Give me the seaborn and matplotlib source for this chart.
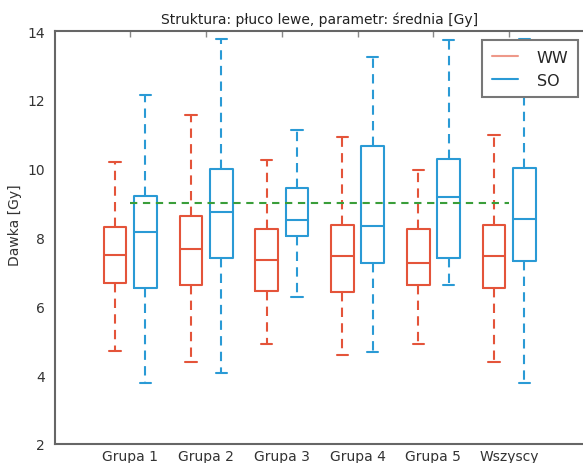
import seaborn as sns
import matplotlib.pyplot as plt
from matplotlib.lines import Line2D
import pandas as pd

# ---------------------------
# Data
# ---------------------------
groups = ["Grupa 1", "Grupa 2", "Grupa 3", "Grupa 4", "Grupa 5", "Wszyscy"]
series = ["WW", "SO"]

ww_low = [4.69, 4.37, 4.91, 4.60, 4.91, 4.38]
ww_q1 = [6.68, 6.62, 6.45, 6.41, 6.63, 6.52]
ww_med = [7.49, 7.67, 7.35, 7.46, 7.26, 7.46]
ww_q3 = [8.30, 8.62, 8.25, 8.36, 8.25, 8.37]
ww_high = [10.20, 11.56, 10.24, 10.91, 9.97, 10.98]

so_low = [3.76, 4.06, 6.26, 4.68, 6.62, 3.77]
so_q1 = [6.52, 7.40, 8.04, 7.26, 7.39, 7.32]
so_med = [8.15, 8.73, 8.52, 8.34, 9.19, 8.54]
so_q3 = [9.21, 9.99, 9.43, 10.66, 10.29, 10.01]
so_high = [12.14, 13.77, 11.13, 13.25, 13.74, 13.77]

limit = 9.0

# five points per box -> quartiles equal the values above
rows = []
for name, stats in [("WW", [ww_low, ww_q1, ww_med, ww_q3, ww_high]),
                    ("SO", [so_low, so_q1, so_med, so_q3, so_high])]:
    for i, g in enumerate(groups):
        for s in stats:
            rows.append({"grupa": g, "seria": name, "dawka": s[i]})
df = pd.DataFrame(rows)

# ---------------------------
# Visualization
# ---------------------------
sns.set_style("white")
plt.rcParams["font.family"] = ["DejaVu Sans"]

red = "#E4543A"
blue = "#2A9AD5"
green = "#3A9E3A"

fig = plt.figure(figsize=(5.83, 4.64), dpi=100)
ax = fig.add_axes([54.5 / 583, 1 - 445 / 464, 530.5 / 583, 413 / 464])

dash = (0, (4.5, 3))
sns.boxplot(
    data=df, x="grupa", y="dawka", hue="seria", order=groups,
    hue_order=series, palette=[red, blue], fill=False,
    width=0.8, gap=0.25, whis=(0, 100), linewidth=1.5,
    whiskerprops=dict(linestyle=dash), legend=False, ax=ax,
)

ax.hlines(limit, 0, len(groups) - 1, colors=green, linestyles=(0, (3.5, 2.7)),
          linewidth=1.5, zorder=3)

ax.set_xlim(-1, len(groups))
ax.set_ylim(2, 14)
ax.set_yticks(range(2, 15, 2))
ax.set_xlabel("")
ax.set_ylabel("Dawka [Gy]", fontsize=10, color="#333333")
ax.yaxis.set_label_coords(-0.062, 0.533)
ax.set_title("Struktura: płuco lewe, parametr: średnia [Gy]", fontsize=10,
             color="#222222", pad=6)

# the reference is cropped at the right edge of the axes
ax.tick_params(axis="both", direction="in", length=4, width=1, color="#888888",
               labelsize=10, labelcolor="#333333", top=True, right=False)
ax.tick_params(axis="y", pad=7)
ax.tick_params(axis="x", pad=3.5)
for sp in ax.spines.values():
    sp.set_color("#666666")
    sp.set_linewidth(1.5)
ax.spines["right"].set_visible(False)

handles = [Line2D([], [], color=red, lw=1.5, alpha=0.6),
           Line2D([], [], color=blue, lw=1.5)]
leg = ax.legend(handles, series, loc="upper right", bbox_to_anchor=(0.987, 0.978),
                borderaxespad=0, fontsize=11.5, handlelength=1.6,
                handletextpad=1.2, labelspacing=0.5, fancybox=False,
                framealpha=1, borderpad=0.6)
leg.get_frame().set_edgecolor("#777777")
leg.get_frame().set_linewidth(1.5)

plt.savefig("out.png", dpi=100)
plt.close()
